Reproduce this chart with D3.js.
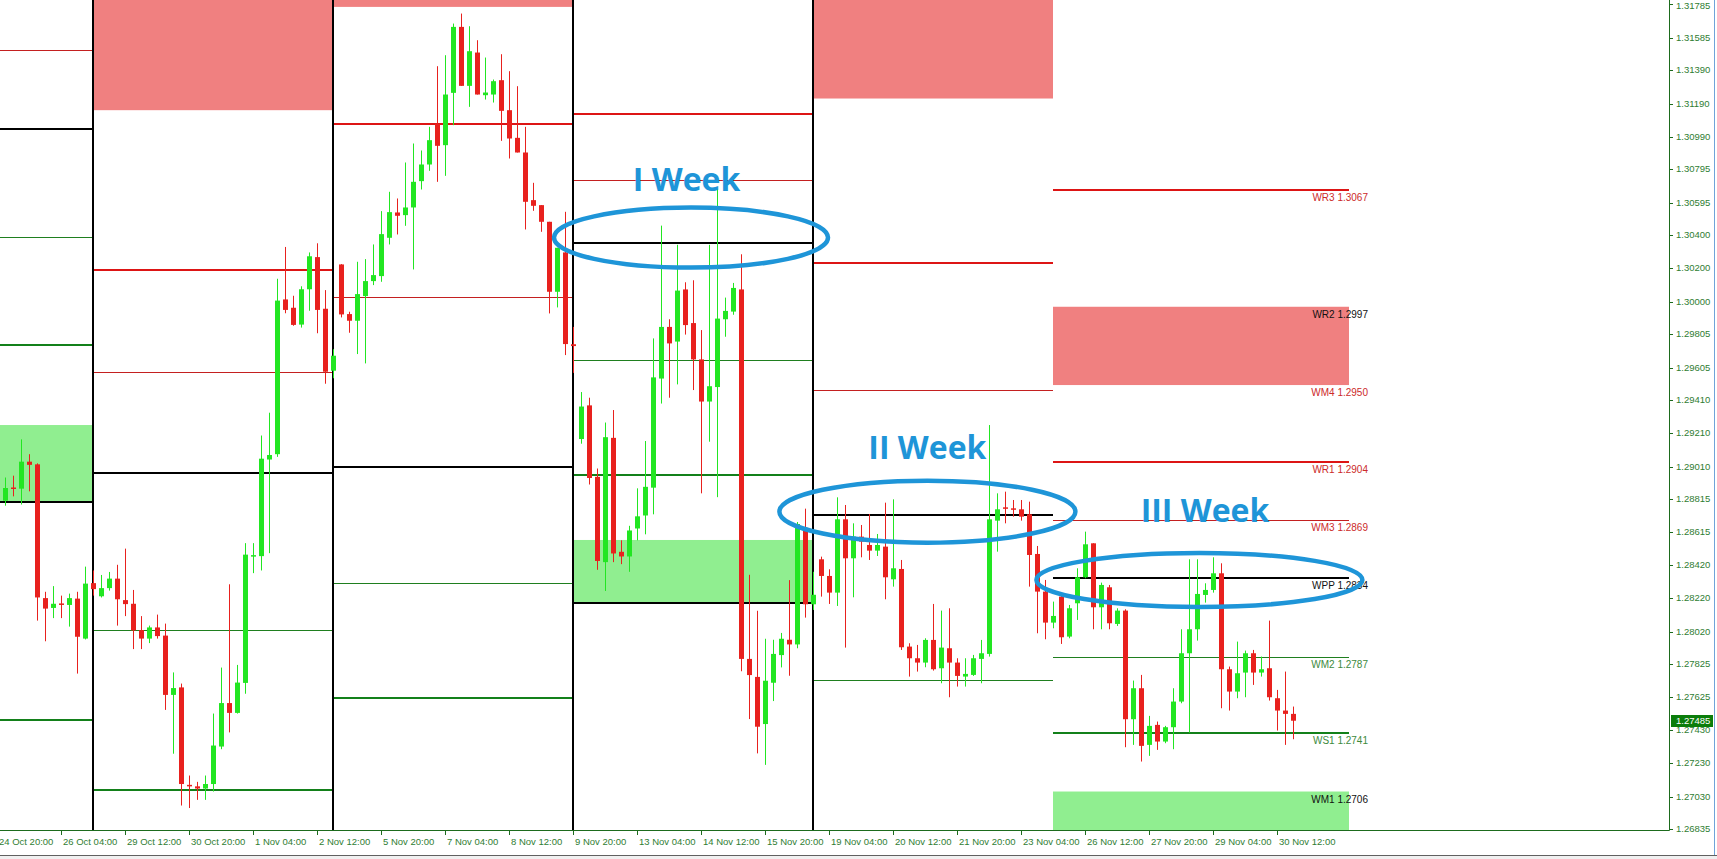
<!DOCTYPE html>
<html>
<head>
<meta charset="utf-8">
<script src="https://cdn.jsdelivr.net/npm/d3@7"></script>
<style>
  body { margin: 0; background: #fff; overflow: hidden; }
  svg { display: block; }
</style>
</head>
<body>
<div class="chart"></div>
<script>
// H4 candles, first one is bar 1 (bar 0 = 24 Oct 20:00)
var firstBar = 1;
var opens = [1.28806,1.28885,1.28878,1.29040,1.29024,1.28221,1.28162,1.28189,1.28180,1.28218,
  1.27978,1.28311,1.28232,1.28281,1.28338,1.28209,1.28187,1.28029,1.27978,1.28045,
  1.27996,1.27640,1.27685,1.27100,1.27091,1.27078,1.27105,1.27330,1.27591,1.27532,
  1.27712,1.28473,1.28473,1.29053,1.29085,1.30014,1.29964,1.29863,1.30075,1.30268,
  1.29958,1.29586,1.30224,1.29926,1.29886,1.30034,1.30124,1.30154,1.30384,1.30536,
  1.30520,1.30566,1.30724,1.30824,1.31070,1.30940,1.31254,1.31650,1.31296,1.31496,
  1.31240,1.31244,1.31330,1.31150,1.30984,1.30896,1.30610,1.30580,1.30480,1.30060,
  1.30296,1.29745,1.29176,1.29378,1.28949,1.28437,1.29183,1.28499,1.28471,1.28639,
  1.28717,1.28884,1.29539,1.29849,1.29761,1.30074,1.29872,1.29654,1.29401,1.29488,
  1.29895,1.29941,1.30074,1.27856,1.27748,1.27465,1.27713,1.27879,1.27971,1.27943,
  1.28643,1.28184,1.28454,1.28354,1.28254,1.28694,1.28460,1.28590,1.28540,1.28506,
  1.28530,1.28334,1.28396,1.27930,1.27860,1.27834,1.27970,1.27800,1.27920,1.27834,
  1.27750,1.27760,1.27856,1.27886,1.28686,1.28766,1.28760,1.28754,1.28724,1.28486,
  1.28260,1.28074,1.28230,1.27990,1.28190,1.28346,1.28550,1.28166,1.28286,1.28066,
  1.28146,1.27494,1.27680,1.27340,1.27460,1.27360,1.27446,1.27600,1.27890,1.28034,
  1.28240,1.28270,1.28370,1.27794,1.27660,1.27774,1.27890,1.27774,1.27800,1.27620,
  1.27546,1.27526];
var highs = [1.28945,1.28956,1.29174,1.29085,1.29030,1.28259,1.28293,1.28236,1.28248,1.28259,
  1.28410,1.28387,1.28360,1.28378,1.28421,1.28518,1.28270,1.28113,1.28056,1.28122,
  1.28068,1.27775,1.27708,1.27156,1.27118,1.27156,1.27528,1.27804,1.28304,1.27820,
  1.28551,1.28551,1.29197,1.29334,1.30138,1.30329,1.30036,1.30093,1.30296,1.30351,
  1.30070,1.29715,1.30226,1.29940,1.30240,1.30256,1.30344,1.30544,1.30660,1.30620,
  1.30836,1.30950,1.30908,1.31050,1.31414,1.31480,1.31670,1.31730,1.31654,1.31570,
  1.31466,1.31334,1.31486,1.31384,1.31294,1.31050,1.30714,1.30580,1.30480,1.30324,
  1.30540,1.29849,1.29458,1.29424,1.28999,1.29275,1.29350,1.28568,1.28655,1.28880,
  1.29164,1.29780,1.30457,1.29895,1.30342,1.30117,1.30129,1.29830,1.30342,1.30675,
  1.30025,1.30113,1.30285,1.28361,1.28145,1.27977,1.27971,1.28012,1.28329,1.28678,
  1.28758,1.28379,1.28470,1.28394,1.28826,1.28780,1.28670,1.28660,1.28726,1.28606,
  1.28794,1.28814,1.28450,1.27950,1.27940,1.27980,1.28186,1.28146,1.28160,1.27860,
  1.27860,1.27880,1.27970,1.29260,1.28850,1.28860,1.28810,1.28810,1.28800,1.28534,
  1.28330,1.28200,1.28250,1.28180,1.28400,1.28620,1.28550,1.28314,1.28300,1.28160,
  1.28154,1.27726,1.27760,1.27514,1.27480,1.27454,1.27680,1.28034,1.28454,1.28454,
  1.28310,1.28466,1.28430,1.27810,1.27960,1.27906,1.27910,1.27870,1.28086,1.27670,
  1.27780,1.27570];
var lows = [1.28776,1.28832,1.28783,1.28862,1.28086,1.27962,1.28101,1.28101,1.28050,1.27768,
  1.27973,1.28236,1.28225,1.28266,1.28056,1.28113,1.27915,1.27915,1.27951,1.27978,
  1.27550,1.27287,1.26976,1.26961,1.27010,1.27010,1.27060,1.27314,1.27415,1.27528,
  1.27647,1.28371,1.28387,1.28491,1.29069,1.29931,1.29856,1.29845,1.29946,1.29811,
  1.29508,1.29541,1.29906,1.29814,1.29686,1.29630,1.30100,1.30120,1.30344,1.30404,
  1.30456,1.30194,1.30674,1.30786,1.30720,1.30756,1.31060,1.31296,1.31170,1.31244,
  1.31214,1.31196,1.30966,1.30860,1.30896,1.30434,1.30546,1.30420,1.29930,1.29966,
  1.29680,1.29573,1.29148,1.28903,1.28391,1.28264,1.28437,1.28425,1.28379,1.28568,
  1.28604,1.28724,1.29389,1.29424,1.29504,1.29803,1.29470,1.28850,1.29160,1.28827,
  1.29790,1.29922,1.27782,1.27495,1.27289,1.27220,1.27603,1.27805,1.27755,1.27920,
  1.28104,1.28150,1.28230,1.28186,1.28174,1.27924,1.28226,1.28466,1.28450,1.28474,
  1.28214,1.28290,1.27910,1.27750,1.27780,1.27806,1.27786,1.27710,1.27626,1.27690,
  1.27690,1.27754,1.27710,1.27870,1.28500,1.28670,1.28710,1.28686,1.28290,1.28010,
  1.27974,1.28040,1.27946,1.27980,1.28090,1.28340,1.28034,1.28034,1.28034,1.28054,
  1.27326,1.27340,1.27240,1.27274,1.27310,1.27350,1.27314,1.27590,1.27414,1.27966,
  1.28194,1.28254,1.27560,1.27546,1.27620,1.27626,1.27700,1.27750,1.27606,1.27426,
  1.27340,1.27374];
var closes = [1.28882,1.28878,1.29040,1.29021,1.28225,1.28158,1.28187,1.28185,1.28221,1.27989,
  1.28308,1.28275,1.28281,1.28338,1.28214,1.28185,1.28027,1.27978,1.28045,1.27993,
  1.27640,1.27681,1.27105,1.27091,1.27078,1.27105,1.27336,1.27591,1.27532,1.27714,
  1.28482,1.28479,1.29058,1.29080,1.30007,1.29951,1.29861,1.30075,1.30273,1.29951,
  1.29580,1.29676,1.29924,1.29886,1.30046,1.30124,1.30160,1.30406,1.30538,1.30516,
  1.30566,1.30720,1.30824,1.30970,1.30936,1.31244,1.31650,1.31296,1.31504,1.31244,
  1.31256,1.31324,1.31146,1.30980,1.30896,1.30600,1.30576,1.30480,1.30060,1.30324,
  1.29746,1.29734,1.29371,1.28942,1.28444,1.29187,1.28489,1.28471,1.28627,1.28712,
  1.28889,1.29546,1.29849,1.29750,1.30067,1.29860,1.29654,1.29401,1.29493,1.29899,
  1.29945,1.30083,1.27856,1.27759,1.27449,1.27725,1.27886,1.27977,1.27943,1.28666,
  1.28184,1.28241,1.28354,1.28254,1.28694,1.28460,1.28590,1.28560,1.28506,1.28540,
  1.28346,1.28400,1.27926,1.27860,1.27834,1.27970,1.27794,1.27924,1.27834,1.27754,
  1.27766,1.27860,1.27890,1.28694,1.28754,1.28760,1.28754,1.28710,1.28480,1.28260,
  1.28074,1.28114,1.27986,1.28160,1.28346,1.28544,1.28166,1.28300,1.28070,1.28146,
  1.27494,1.27680,1.27334,1.27454,1.27360,1.27446,1.27600,1.27890,1.28034,1.28246,
  1.28270,1.28370,1.27794,1.27660,1.27770,1.27890,1.27774,1.27794,1.27626,1.27546,
  1.27526,1.27485];
var lastPrice = 1.27485;

// time axis, one label every 8 bars from bar 0
var timeLabels = ["24 Oct 20:00","26 Oct 04:00","29 Oct 12:00","30 Oct 20:00","1 Nov 04:00",
  "2 Nov 12:00","5 Nov 20:00","7 Nov 04:00","8 Nov 12:00","9 Nov 20:00","13 Nov 04:00",
  "14 Nov 12:00","15 Nov 20:00","19 Nov 04:00","20 Nov 12:00","21 Nov 20:00","23 Nov 04:00",
  "26 Nov 12:00","27 Nov 20:00","29 Nov 04:00","30 Nov 12:00"];
var priceTicks = ["1.31785","1.31585","1.31390","1.31190","1.30990","1.30795","1.30595",
  "1.30400","1.30200","1.30000","1.29805","1.29605","1.29410","1.29210","1.29010","1.28815",
  "1.28615","1.28420","1.28220","1.28020","1.27825","1.27625","1.27430","1.27230","1.27030","1.26835"];

// weekly pivot levels, one entry per week block (bar ranges)
var weekFrom = [-1, 12, 42, 72, 102, 132];
var weekTo   = [12, 42, 72, 102, 132, 169];
var lvR3 = [null, null, null, null, null, 1.3067];
var lvR2 = [null, 1.3211, 1.3247, null, 1.3221, 1.2997];
var lvM4 = [null, 1.3115, 1.3177, null, 1.3122, 1.2950];
var lvR1 = [null, 1.3019, 1.3107, 1.3113, 1.3023, 1.2904];
var lvM3 = [1.3151, 1.2958, 1.3003, 1.3073, 1.2947, 1.2869];
var lvPP = [1.3104, 1.2897, 1.2901, 1.3035, 1.2872, 1.2834];
var lvM2 = [1.3039, 1.2803, 1.2831, 1.2965, 1.2773, 1.2787];
var lvS1 = [1.2974, 1.2707, 1.2762, 1.2896, null, 1.2741];
var lvM1 = [1.2926, null, null, 1.2857, null, 1.2706];
var lvS2 = [1.2880, null, null, 1.2819, null, 1.2671];
var lvS3 = [1.2749, null, null, null, null, null];
var weekSeparators = [12, 42, 72, 102];

// labels of the current week
var curNames = ["WR3", "WR2", "WM4", "WR1", "WM3", "WPP", "WM2", "WS1", "WM1"];
var curValues = [1.3067, 1.2997, 1.2950, 1.2904, 1.2869, 1.2834, 1.2787, 1.2741, 1.2706];
var curColors = ["#cc2a2a", "#111", "#cc2a2a", "#cc2a2a", "#cc2a2a", "#111", "#3d8a3d", "#3d8a3d", "#111"];

// notes drawn over the chart
var weekNotes = ["I Week", "II Week", "III Week"];
var noteBar = [86.75, 116.3, 150.3];
var notePrice = [1.30385, 1.28740, 1.28330];
var noteRx = [137, 148, 163];
var noteRy = [30, 31, 27];
var noteTextBar = [86.2, 116.3, 151];
var noteTextPrice = [1.30665, 1.29056, 1.28678];

// chart geometry
var svgWidth = 1717;
var svgHeight = 859;
var plotRight = 1669;
var plotBottom = 830;

var bull = "#22e622", bear = "#e8211e";
var axisColor = "#2f7d32";

var svg = d3.select(".chart")
  .append("svg")
  .attr("width", svgWidth)
  .attr("height", svgHeight)
  .style("font-family", "'Liberation Sans', Arial, sans-serif");

var xScale = d3.scaleLinear().domain([0, 1]).range([-3, 5]);
var yScale = d3.scaleLinear().domain([1.26835, 1.31785]).range([829, 4.4]);

svg.append("defs").append("clipPath").attr("id", "plot")
  .append("rect").attr("x", 0).attr("y", 0).attr("width", plotRight).attr("height", plotBottom);

var plot = svg.append("g").attr("clip-path", "url(#plot)");

// zones
var weeks = d3.range(weekFrom.length);
function zone(top, bottom, color) {
  plot.append("g").selectAll("rect")
    .data(weeks.filter(function(w) { return bottom[w] !== null; }))
    .enter().append("rect")
    .attr("x", function(w) { return xScale(weekFrom[w]); })
    .attr("width", function(w) { return xScale(weekTo[w]) - xScale(weekFrom[w]); })
    .attr("y", function(w) { return yScale(top[w]); })
    .attr("height", function(w) { return yScale(bottom[w]) - yScale(top[w]); })
    .attr("fill", color);
}
zone(lvR2, lvM4, "#f08080");
zone(lvM1, lvS2, "#90ee90");

// level lines
function level(values, color, width) {
  plot.append("g").selectAll("line")
    .data(weeks.filter(function(w) { return values[w] !== null; }))
    .enter().append("line")
    .attr("x1", function(w) { return xScale(weekFrom[w]); })
    .attr("x2", function(w) { return xScale(weekTo[w]); })
    .attr("y1", function(w) { return Math.round(yScale(values[w])) + (width % 2 ? 0.5 : 0); })
    .attr("y2", function(w) { return Math.round(yScale(values[w])) + (width % 2 ? 0.5 : 0); })
    .attr("stroke", color)
    .attr("stroke-width", width);
}
level(lvR3, "#dd1515", 2);
level(lvR1, "#dd1515", 2);
level(lvM3, "#c42020", 1);
level(lvPP, "#000", 2);
level(lvM2, "#1f7f1f", 1);
level(lvS1, "#13801a", 2);
level(lvS3, "#13801a", 2);
level(lvS2.map(function(v, w) { return lvM1[w] === null ? null : v; }), "#000", 2);

// week separators
plot.append("g").selectAll("line")
  .data(weekSeparators)
  .enter().append("line")
  .attr("x1", function(d) { return xScale(d); })
  .attr("x2", function(d) { return xScale(d); })
  .attr("y1", 0)
  .attr("y2", plotBottom)
  .attr("stroke", "#000")
  .attr("stroke-width", 2);

// level labels for the current week
svg.append("g").selectAll("text")
  .data(curNames)
  .enter().append("text")
  .attr("x", xScale(weekTo[5]) + 19)
  .attr("y", function(d, i) { return yScale(curValues[i]) + 11; })
  .attr("text-anchor", "end")
  .attr("font-size", "10px")
  .attr("fill", function(d, i) { return curColors[i]; })
  .text(function(d, i) { return d + " " + curValues[i].toFixed(4); });

// candles
var bars = d3.range(opens.length);
var candles = plot.append("g").selectAll("g")
  .data(bars)
  .enter().append("g")
  .attr("fill", function(i) { return closes[i] >= opens[i] ? bull : bear; });

candles.append("rect")
  .attr("x", function(i) { return Math.round(xScale(i + firstBar)); })
  .attr("width", 1)
  .attr("y", function(i) { return yScale(highs[i]); })
  .attr("height", function(i) { return Math.max(1, yScale(lows[i]) - yScale(highs[i])); });

candles.append("rect")
  .attr("x", function(i) { return Math.round(xScale(i + firstBar)) - 2; })
  .attr("width", 5)
  .attr("y", function(i) { return yScale(Math.max(opens[i], closes[i])); })
  .attr("height", function(i) { return Math.max(1.5, Math.abs(yScale(opens[i]) - yScale(closes[i]))); });

// hand drawn ellipses and notes
svg.append("g").selectAll("ellipse")
  .data(weekNotes)
  .enter().append("ellipse")
  .attr("cx", function(d, i) { return xScale(noteBar[i]); })
  .attr("cy", function(d, i) { return yScale(notePrice[i]); })
  .attr("rx", function(d, i) { return noteRx[i]; })
  .attr("ry", function(d, i) { return noteRy[i]; })
  .attr("fill", "none")
  .attr("stroke", "#1e95d8")
  .attr("stroke-width", 4.5);

svg.append("g").selectAll("text")
  .data(weekNotes)
  .enter().append("text")
  .attr("x", function(d, i) { return xScale(noteTextBar[i]); })
  .attr("y", function(d, i) { return yScale(noteTextPrice[i]); })
  .attr("text-anchor", "middle")
  .attr("font-family", "'Open Sans', sans-serif")
  .attr("font-weight", 700)
  .attr("font-size", "32px")
  .attr("fill", "#1e95d8")
  .text(function(d) { return d; });

// axes frame
svg.append("line")
  .attr("x1", plotRight + 0.5).attr("x2", plotRight + 0.5)
  .attr("y1", 0).attr("y2", plotBottom + 0.5)
  .attr("stroke", "#1d6b1d");
svg.append("line")
  .attr("x1", 0).attr("x2", plotRight + 0.5)
  .attr("y1", plotBottom + 0.5).attr("y2", plotBottom + 0.5)
  .attr("stroke", "#1d6b1d");

// price axis
var py = svg.append("g").selectAll("g")
  .data(priceTicks)
  .enter().append("g")
  .attr("transform", function(d) { return "translate(0," + Math.round(yScale(+d)) + ")"; });
py.append("line")
  .attr("x1", plotRight).attr("x2", plotRight + 4)
  .attr("y1", 0.5).attr("y2", 0.5)
  .attr("stroke", "#1d6b1d");
py.append("text")
  .attr("x", plotRight + 7)
  .attr("y", function(d) { return Math.max(0, 6 - Math.round(yScale(+d))); })
  .attr("dy", "0.35em")
  .attr("font-size", "9.5px")
  .attr("fill", axisColor)
  .text(function(d) { return d; });

// current price tag
var lastY = Math.round(yScale(lastPrice));
svg.append("rect")
  .attr("x", plotRight + 2).attr("y", lastY - 6)
  .attr("width", 42).attr("height", 12)
  .attr("fill", "#0b7d0b");
svg.append("text")
  .attr("x", plotRight + 7).attr("y", lastY)
  .attr("dy", "0.35em")
  .attr("font-size", "9.5px")
  .attr("fill", "#fff")
  .text(lastPrice.toFixed(5));

// time axis
var tx = svg.append("g").selectAll("g")
  .data(timeLabels)
  .enter().append("g")
  .attr("transform", function(d, i) { return "translate(" + Math.round(xScale(i * 8)) + ",0)"; });
tx.append("line")
  .attr("x1", 0.5).attr("x2", 0.5)
  .attr("y1", plotBottom).attr("y2", plotBottom + 5)
  .attr("stroke", "#1d6b1d");
tx.append("text")
  .attr("x", 2)
  .attr("y", plotBottom + 15)
  .attr("font-size", "9.5px")
  .attr("fill", axisColor)
  .text(function(d) { return d; });

// terminal tab strip and window border
svg.append("rect").attr("x", 0).attr("y", 855).attr("width", svgWidth).attr("height", 4).attr("fill", "#f0f0f0");
svg.append("line").attr("x1", 0).attr("x2", svgWidth).attr("y1", 855.5).attr("y2", 855.5).attr("stroke", "#606060");
svg.append("line").attr("x1", 1714.5).attr("x2", 1714.5).attr("y1", 0).attr("y2", 855).attr("stroke", "#6fa3d8");
</script>
</body>
</html>
